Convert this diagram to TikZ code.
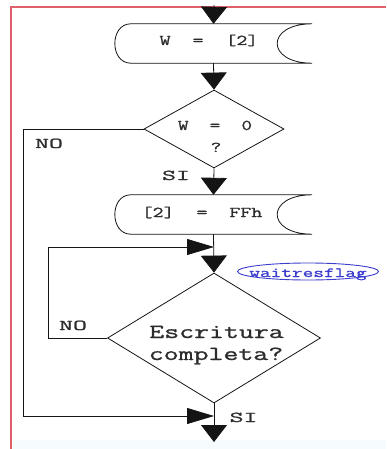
\documentclass[tikz,border=0pt]{standalone}
\usepackage{fontspec}
\newfontfamily\cour{Latin Modern Mono}[FakeBold=1]
\usetikzlibrary{shapes.geometric,arrows.meta,calc}
\definecolor{redb}{RGB}{222,96,106}
\definecolor{bluet}{RGB}{60,60,205}
\definecolor{ink}{RGB}{20,20,20}
\definecolor{txt}{RGB}{45,45,45}
\definecolor{faint}{RGB}{246,251,253}
\newcommand\hsc[2]{\scalebox{#1}[1]{#2}}
\begin{document}
\begin{tikzpicture}[x=1pt,y=-1pt,
  line/.style={draw=ink, line width=0.8pt},
  varr/.style={line, -{Triangle[length=17pt,width=26pt]}},
  harr/.style={line, -{Triangle[length=27pt,width=16pt]}},
  dia/.style={diamond, line, inner sep=0pt},
  store/.style={rectangle, draw=none, inner sep=0pt, minimum width=197pt, minimum height=39pt},
  small/.style={font=\fontsize{15}{22}\selectfont\cour, text=txt, inner sep=0pt, anchor=base},
  big/.style={font=\fontsize{20}{22}\selectfont\cour, text=txt, inner sep=0pt, anchor=base},
  tag/.style={inner sep=0pt, text=bluet, anchor=base, font=\fontsize{14}{14}\selectfont\cour}
]
\useasboundingbox (0,0) rectangle (386,449);
\fill[faint] (12,440) rectangle (386,449);
\draw[redb, line width=2pt] (11,449) -- (11,7) -- (386,7);

% shapes
\node[store] (s1) at (213.5,43.5) {};
\node[store] (s2) at (213.5,214.5) {};
\node[dia, minimum width=140pt, minimum height=78pt] (d1) at (214,129) {};
\node[dia, minimum width=213pt, minimum height=130pt] (d2) at (214,338) {};

\foreach \s in {s1,s2}{
  \draw[line] ($(\s.north west)+(16,0)$) -- (\s.north east)
    .. controls ($(\s.north east)+(-46.7,0)$) and ($(\s.south east)+(-46.7,0)$) .. (\s.south east)
    -- ($(\s.south west)+(16,0)$)
    .. controls ($(\s.south west)+(-5.3,0)$) and ($(\s.north west)+(-5.3,0)$) .. cycle;
}

% texts
\node[small] (t1) at (209,45) {\hsc{1.42}{W\ \ =\ \ [2]}};
\node[small] (t2) at (202,217) {\hsc{1.42}{[2]\ \ =\ \ FFh}};
\node[small] (t3) at (215,130) {\hsc{1.37}{W\ \ =\ \ 0}};
\node[small] (t4) at (216,152) {\hsc{1.37}{?}};
\node[big] (t5) at (216.5,338) {\hsc{1.45}{Escritura}};
\node[big] (t6) at (216,360) {\hsc{1.45}{completa?}};
\node[small] (no1) at (49,148) {\hsc{1.8}{NO}};
\node[small] (si1) at (176,180) {\hsc{1.8}{SI}};
\node[small] (no2) at (73,330) {\hsc{1.8}{NO}};
\node[small] (si2) at (243.5,422) {\hsc{1.8}{SI}};
\node[tag] (wf) at (308,277) {\hsc{1.48}{waitresflag}};
\draw[bluet, line width=0.9pt] (wf.base) ++(0,-5.5) ellipse [x radius=70.5, y radius=8.5];

% coordinates
\coordinate (top) at (214,5);
\coordinate (bot) at (214,442);
\coordinate (j1) at (214,247);
\coordinate (j2) at (214,416);
\coordinate (lx1) at (23,0);
\coordinate (lx2) at (48,0);

% connectors
\draw[varr] (top) -- (s1.north);
\draw[varr] (s1.south) -- (d1.north);
\draw[varr] (d1.south) -- (s2.north);
\draw[varr] (s2.south) -- (d2.north);
\draw[varr] (d2.south) -- (bot);
\draw[harr] (d1.west) -- (d1.west -| lx1) |- (j2);
\draw[harr] (d2.west) -- (d2.west -| lx2) |- (j1);
\end{tikzpicture}
\end{document}
